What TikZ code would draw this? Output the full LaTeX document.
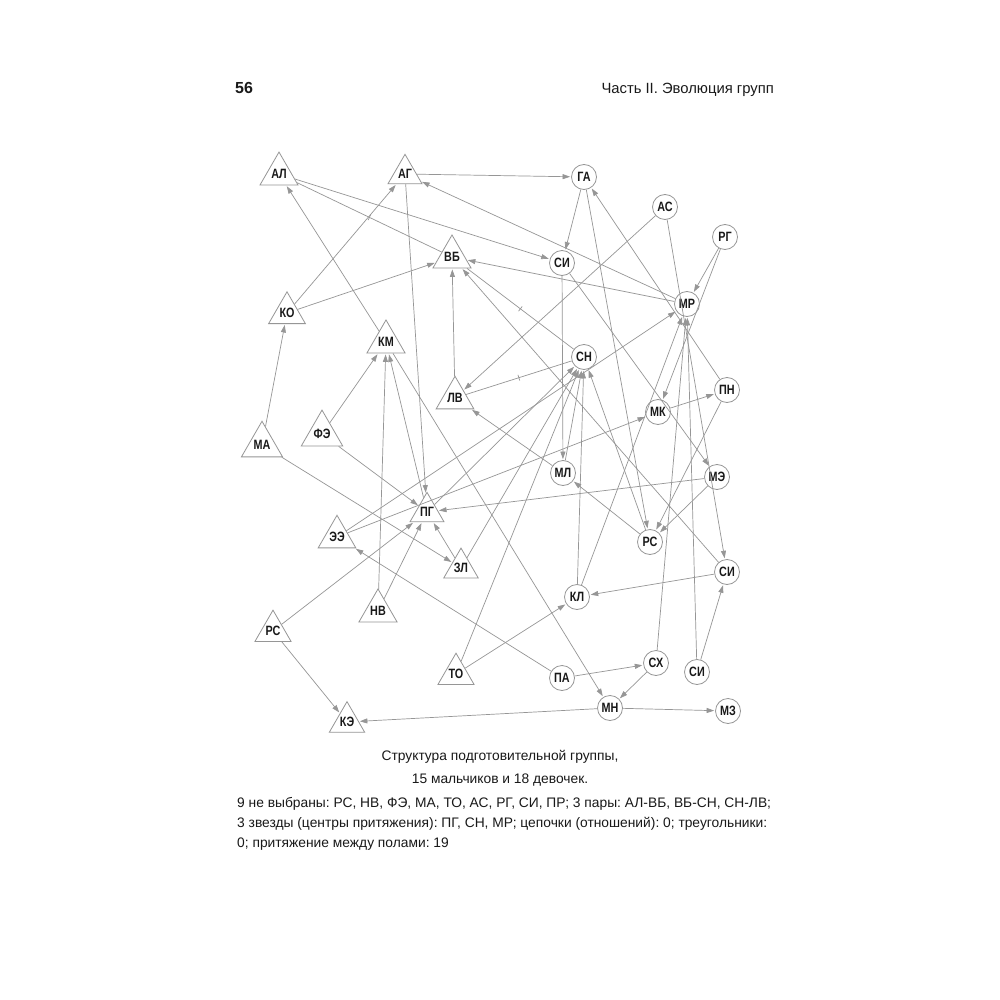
\documentclass[tikz,border=0pt]{standalone}
\usepackage{fontspec}
\setmainfont{Liberation Sans}
\newfontfamily\labelfont[FakeStretch=0.8]{Liberation Sans}
\usetikzlibrary{arrows.meta,shapes.geometric}
\definecolor{linegray}{RGB}{150,150,150}
\definecolor{textblack}{RGB}{25,25,25}
\frenchspacing
\begin{document}
\begin{tikzpicture}[x=1pt,y=-1pt,
  lbl/.style={font=\labelfont\bfseries\fontsize{13.5}{13.5}\selectfont,text=textblack},
  boy/.style={regular polygon,regular polygon sides=3,draw=linegray,line width=0.8pt,minimum size=37pt,inner sep=0pt,lbl},
  girl/.style={circle,draw=linegray,line width=0.8pt,minimum size=25pt,inner sep=0pt,lbl},
  arr/.style={draw=linegray,line width=0.7pt,-{Triangle[length=7.5pt,width=5pt]},shorten >=1pt},
  pairline/.style={draw=linegray,line width=0.7pt},
  tickmark/.style={draw=linegray,line width=0.7pt,rectangle,minimum width=0pt,minimum height=6pt,inner sep=0pt,sloped},
  captext/.style={font=\fontsize{13.8}{15}\selectfont,text=textblack,inner sep=0pt}
]
\useasboundingbox (0,0) rectangle (1000,1000);
\fill[white] (0,0) rectangle (1000,1000);

% header
\node[anchor=base west,font=\bfseries\fontsize{16}{16}\selectfont,text=textblack,inner sep=0pt] (pagenum) at (235,94) {56};
\node[anchor=base east,font=\fontsize{14.8}{15}\selectfont,text=textblack,inner sep=0pt] (header) at (774,94) {Часть II. Эволюция групп};

% boys (triangles)
\node[boy] (AL) at (279,174) {АЛ};
\node[boy] (AG) at (405,174) {АГ};
\node[boy] (VB) at (452,257) {ВБ};
\node[boy] (KO) at (287,313) {КО};
\node[boy] (KM) at (386,342) {КМ};
\node[boy] (LV) at (455,398) {ЛВ};
\node[boy] (FE) at (322,434) {ФЭ};
\node[boy] (MA) at (262,445) {МА};
\node[boy] (PG) at (427,512) {ПГ};
\node[boy] (EE) at (337,537) {ЭЭ};
\node[boy] (ZL) at (461,568) {ЗЛ};
\node[boy] (NV) at (378,611) {НВ};
\node[boy] (RSt) at (273,631) {РС};
\node[boy] (TO) at (456,674) {ТО};
\node[boy] (KE) at (347,722) {КЭ};

% girls (circles)
\node[girl] (GA) at (584,177) {ГА};
\node[girl] (AS) at (665,207) {АС};
\node[girl] (RG) at (725,237) {РГ};
\node[girl] (SIt) at (562,263) {СИ};
\node[girl] (MR) at (687,304) {МР};
\node[girl] (SN) at (584,357) {СН};
\node[girl] (PN) at (727,390) {ПН};
\node[girl] (MK) at (658,412) {МК};
\node[girl] (ML) at (563,473) {МЛ};
\node[girl] (ME) at (717,477) {МЭ};
\node[girl] (RSc) at (650,542) {РС};
\node[girl] (SIr) at (727,572) {СИ};
\node[girl] (KL) at (577,597) {КЛ};
\node[girl] (SX) at (656,663) {СХ};
\node[girl] (SIb) at (697,672) {СИ};
\node[girl] (PA) at (562,678) {ПА};
\node[girl] (MN) at (610,708) {МН};
\node[girl] (MZ) at (728,711) {МЗ};

% mutual pairs
\draw[pairline] (AL) -- node[tickmark]{} (VB);
\draw[pairline] (VB) -- node[tickmark]{} (SN);
\draw[pairline] (LV) -- node[tickmark]{} (SN);

% choices
\draw[arr] (AG) -- (GA);
\draw[arr] (MR) -- (AG);
\draw[arr] (MR) -- (VB);
\draw[arr] (KO) -- (AG);
\draw[arr] (KO) -- (VB);
\draw[arr] (KM) -- (AL);
\draw[arr] (MA) -- (KO);
\draw[arr] (AG) -- (PG);
\draw[arr] (FE) -- (KM);
\draw[arr] (NV) -- (KM);
\draw[arr] (PG) -- (KM);
\draw[arr] (KM) -- (MN);
\draw[arr] (FE) -- (PG);
\draw[arr] (MA) -- (ZL);
\draw[arr] (ZL) -- (PG);
\draw[arr] (ZL) -- (SN);
\draw[arr] (TO) -- (SN);
\draw[arr] (TO) -- (KL);
\draw[arr] (PA) -- (SX);
\draw[arr] (SX) -- (MN);
\draw[arr] (MN) -- (MZ);
\draw[arr] (MN) -- (KE);
\draw[arr] (RSt) -- (KE);
\draw[arr] (RSt) -- (PG);
\draw[arr] (NV) -- (PG);
\draw[arr] (EE) -- (MK);
\draw[arr] (EE) -- (MR);
\draw[arr] (ML) -- (SN);
\draw[arr] (SIt) -- (ML);
\draw[arr] (KL) -- (SN);
\draw[arr] (KL) -- (MR);
\draw[arr] (GA) -- (RSc);
\draw[arr] (GA) -- (SIt);
\draw[arr] (PN) -- (GA);
\draw[arr] (MK) -- (PN);
\draw[arr] (PN) -- (RSc);
\draw[arr] (ME) -- (RSc);
\draw[arr] (RSc) -- (ML);
\draw[arr] (SIr) -- (VB);
\draw[arr] (AS) -- (SIr);
\draw[arr] (AS) -- (LV);
\draw[arr] (RG) -- (MR);
\draw[arr] (RG) -- (MK);
\draw[arr] (SIt) -- (ME);
\draw[arr] (ML) -- (LV);
\draw[arr] (LV) -- (VB);
\draw[arr] (ME) -- (PG);
\draw[arr] (SIr) -- (KL);
\draw[arr] (SIb) -- (SIr);
\draw[arr] (SIb) -- (MR);
\draw[arr] (SX) -- (MR);
\draw[arr] (RSc) -- (SN);
\draw[arr] (AL) -- (SIt);
\draw[arr] (PA) -- (EE);
\draw[arr] (PG) -- (SN);

% caption
\node[captext,anchor=base] (cap1) at (500,760) {Структура подготовительной группы,};
\node[captext,anchor=base] (cap2) at (500,783) {15 мальчиков и 18 девочек.};
\node[captext,anchor=base west] (cap3) at (237,807) {9 не выбраны: РС, НВ, ФЭ, МА, ТО, АС, РГ, СИ, ПР; 3 пары: АЛ-ВБ, ВБ-СН, СН-ЛВ;};
\node[captext,anchor=base west] (cap4) at (237,827) {3 звезды (центры притяжения): ПГ, СН, МР; цепочки (отношений): 0; треугольники:};
\node[captext,anchor=base west] (cap5) at (237,847) {0; притяжение между полами: 19};
\end{tikzpicture}
\end{document}
